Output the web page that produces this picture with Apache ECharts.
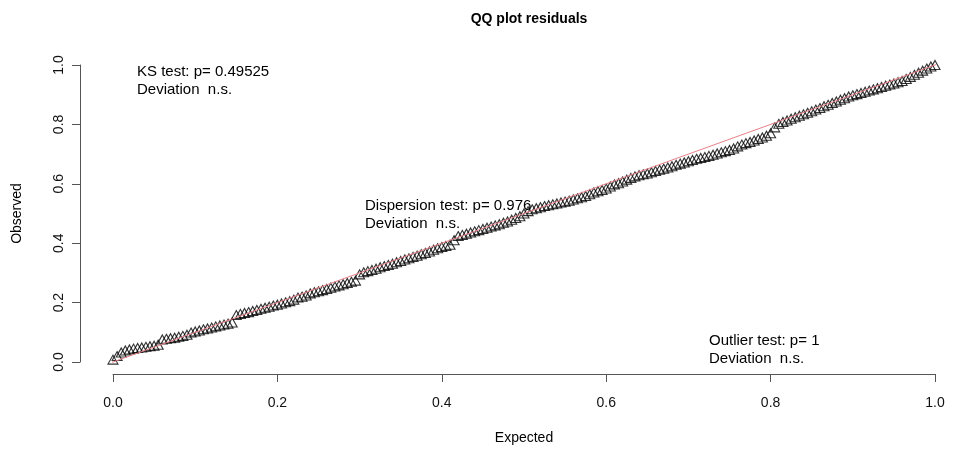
<!DOCTYPE html>
<html>
<head>
<meta charset="utf-8">
<script src="https://cdn.jsdelivr.net/npm/echarts@6/dist/echarts.min.js"></script>
<style>
  html, body { margin: 0; padding: 0; background: #fff; }
  #chart { width: 960px; height: 450px; }
</style>
</head>
<body>
<div id="chart"></div>
<script>
// expected uniform quantiles, read along the x axis
const expected = [
  0.000, 0.005, 0.010, 0.015, 0.020, 0.025, 0.030, 0.035, 0.040, 0.045,
  0.050, 0.055, 0.060, 0.065, 0.070, 0.075, 0.080, 0.085, 0.090, 0.095,
  0.100, 0.105, 0.110, 0.115, 0.120, 0.125, 0.130, 0.135, 0.140, 0.145,
  0.150, 0.155, 0.160, 0.165, 0.170, 0.175, 0.180, 0.185, 0.190, 0.195,
  0.200, 0.205, 0.210, 0.215, 0.220, 0.225, 0.230, 0.235, 0.240, 0.245,
  0.250, 0.255, 0.260, 0.265, 0.270, 0.275, 0.280, 0.285, 0.290, 0.295,
  0.300, 0.305, 0.310, 0.315, 0.320, 0.325, 0.330, 0.335, 0.340, 0.345,
  0.350, 0.355, 0.360, 0.365, 0.370, 0.375, 0.380, 0.385, 0.390, 0.395,
  0.400, 0.405, 0.410, 0.415, 0.420, 0.425, 0.430, 0.435, 0.440, 0.445,
  0.450, 0.455, 0.460, 0.465, 0.470, 0.475, 0.480, 0.485, 0.490, 0.495,
  0.500, 0.505, 0.510, 0.515, 0.520, 0.525, 0.530, 0.535, 0.540, 0.545,
  0.550, 0.555, 0.560, 0.565, 0.570, 0.575, 0.580, 0.585, 0.590, 0.595,
  0.600, 0.605, 0.610, 0.615, 0.620, 0.625, 0.630, 0.635, 0.640, 0.645,
  0.650, 0.655, 0.660, 0.665, 0.670, 0.675, 0.680, 0.685, 0.690, 0.695,
  0.700, 0.705, 0.710, 0.715, 0.720, 0.725, 0.730, 0.735, 0.740, 0.745,
  0.750, 0.755, 0.760, 0.765, 0.770, 0.775, 0.780, 0.785, 0.790, 0.795,
  0.800, 0.805, 0.810, 0.815, 0.820, 0.825, 0.830, 0.835, 0.840, 0.845,
  0.850, 0.855, 0.860, 0.865, 0.870, 0.875, 0.880, 0.885, 0.890, 0.895,
  0.900, 0.905, 0.910, 0.915, 0.920, 0.925, 0.930, 0.935, 0.940, 0.945,
  0.950, 0.955, 0.960, 0.965, 0.970, 0.975, 0.980, 0.985, 0.990, 0.995,
  1.000
];

// observed residual quantiles
const observed = [
  0.008, 0.020, 0.032, 0.039, 0.042, 0.045, 0.047, 0.049, 0.051, 0.053,
  0.055, 0.058, 0.076, 0.078, 0.080, 0.082, 0.085, 0.088, 0.092, 0.099,
  0.103, 0.106, 0.110, 0.113, 0.116, 0.120, 0.123, 0.126, 0.129, 0.133,
  0.158, 0.162, 0.165, 0.168, 0.172, 0.175, 0.179, 0.183, 0.186, 0.190,
  0.193, 0.197, 0.201, 0.205, 0.210, 0.217, 0.220, 0.224, 0.231, 0.235,
  0.238, 0.242, 0.246, 0.250, 0.254, 0.258, 0.262, 0.266, 0.270, 0.274,
  0.295, 0.302, 0.306, 0.310, 0.314, 0.319, 0.323, 0.327, 0.331, 0.336,
  0.340, 0.345, 0.349, 0.354, 0.358, 0.363, 0.367, 0.372, 0.378, 0.383,
  0.387, 0.391, 0.395, 0.410, 0.424, 0.428, 0.432, 0.436, 0.440, 0.444,
  0.448, 0.452, 0.456, 0.460, 0.464, 0.469, 0.473, 0.479, 0.485, 0.491,
  0.500, 0.508, 0.514, 0.518, 0.521, 0.525, 0.528, 0.531, 0.534, 0.537,
  0.540, 0.543, 0.547, 0.551, 0.555, 0.559, 0.565, 0.571, 0.575, 0.579,
  0.584, 0.591, 0.598, 0.602, 0.608, 0.614, 0.620, 0.625, 0.629, 0.632,
  0.635, 0.639, 0.643, 0.647, 0.651, 0.655, 0.659, 0.664, 0.668, 0.672,
  0.676, 0.680, 0.684, 0.687, 0.690, 0.694, 0.698, 0.702, 0.706, 0.710,
  0.714, 0.719, 0.726, 0.732, 0.737, 0.741, 0.746, 0.751, 0.756, 0.762,
  0.770, 0.790, 0.802, 0.808, 0.813, 0.819, 0.824, 0.829, 0.834, 0.839,
  0.844, 0.850, 0.855, 0.861, 0.866, 0.872, 0.877, 0.883, 0.888, 0.894,
  0.898, 0.902, 0.906, 0.910, 0.914, 0.918, 0.922, 0.926, 0.930, 0.934,
  0.938, 0.942, 0.946, 0.953, 0.960, 0.967, 0.974, 0.981, 0.988, 0.995,
  1.000
];

// y = x reference line
const refLine = [[-0.04, -0.04], [1.1, 1.1]];

const axisTicks = [0, 0.2, 0.4, 0.6, 0.8, 1.0];

const notes = [
  'KS test: p= 0.49525\nDeviation  n.s.',
  'Dispersion test: p= 0.976\nDeviation  n.s.',
  'Outlier test: p= 1\nDeviation  n.s.'
];

const font = "'Liberation Sans', Arial, sans-serif";
const points = expected.map((x, i) => [x, observed[i]]);

const chart = echarts.init(document.getElementById('chart'));

chart.setOption({
  animation: false,
  backgroundColor: '#fff',
  title: {
    text: 'QQ plot residuals',
    left: 524,
    top: 7,
    textAlign: 'center',
    textStyle: { fontFamily: font, fontSize: 14, fontWeight: 'bold', color: '#000' }
  },
  grid: { left: 113, right: 25, top: 65, bottom: 87 },
  xAxis: {
    type: 'value',
    min: 0,
    max: 1,
    interval: 0.2,
    offset: 12,
    name: 'Expected',
    nameLocation: 'middle',
    nameGap: 57,
    nameTextStyle: { fontFamily: font, fontSize: 14, color: '#000' },
    splitLine: { show: false },
    axisLine: { show: true, onZero: false, lineStyle: { color: '#555', width: 1 } },
    axisTick: { show: true, length: 8, lineStyle: { color: '#555' } },
    axisLabel: {
      fontFamily: font, fontSize: 14, color: '#111', margin: 22,
      formatter: v => axisTicks.indexOf(v) >= 0 ? v.toFixed(1) : ''
    }
  },
  yAxis: {
    type: 'value',
    min: 0,
    max: 1,
    interval: 0.2,
    offset: 33,
    name: 'Observed',
    nameLocation: 'middle',
    nameRotate: 90,
    nameGap: 56,
    nameTextStyle: { fontFamily: font, fontSize: 14, color: '#000' },
    splitLine: { show: false },
    axisLine: { show: true, onZero: false, lineStyle: { color: '#555', width: 1 } },
    axisTick: { show: true, length: 8, lineStyle: { color: '#555' } },
    axisLabel: {
      fontFamily: font, fontSize: 14, color: '#111', margin: 14, rotate: 90,
      formatter: v => axisTicks.indexOf(v) >= 0 ? v.toFixed(1) : ''
    }
  },
  graphic: [
    { type: 'text', left: 137, top: 63, style: { text: notes[0], font: '15px ' + font, fill: '#000', lineHeight: 18 } },
    { type: 'text', left: 365, top: 197, style: { text: notes[1], font: '15px ' + font, fill: '#000', lineHeight: 18 } },
    { type: 'text', left: 709, top: 332, style: { text: notes[2], font: '15px ' + font, fill: '#000', lineHeight: 18 } }
  ],
  series: [
    {
      type: 'scatter',
      data: points,
      symbol: 'triangle',
      symbolSize: [10, 9],
      itemStyle: { color: 'rgba(255,255,255,0)', borderColor: '#000', borderWidth: 1.1 },
      emphasis: { disabled: true },
      z: 2
    },
    {
      type: 'line',
      data: refLine,
      clip: false,
      symbol: 'none',
      lineStyle: { color: '#e8808a', width: 1 },
      emphasis: { disabled: true },
      z: 3
    }
  ]
});
</script>
</body>
</html>
